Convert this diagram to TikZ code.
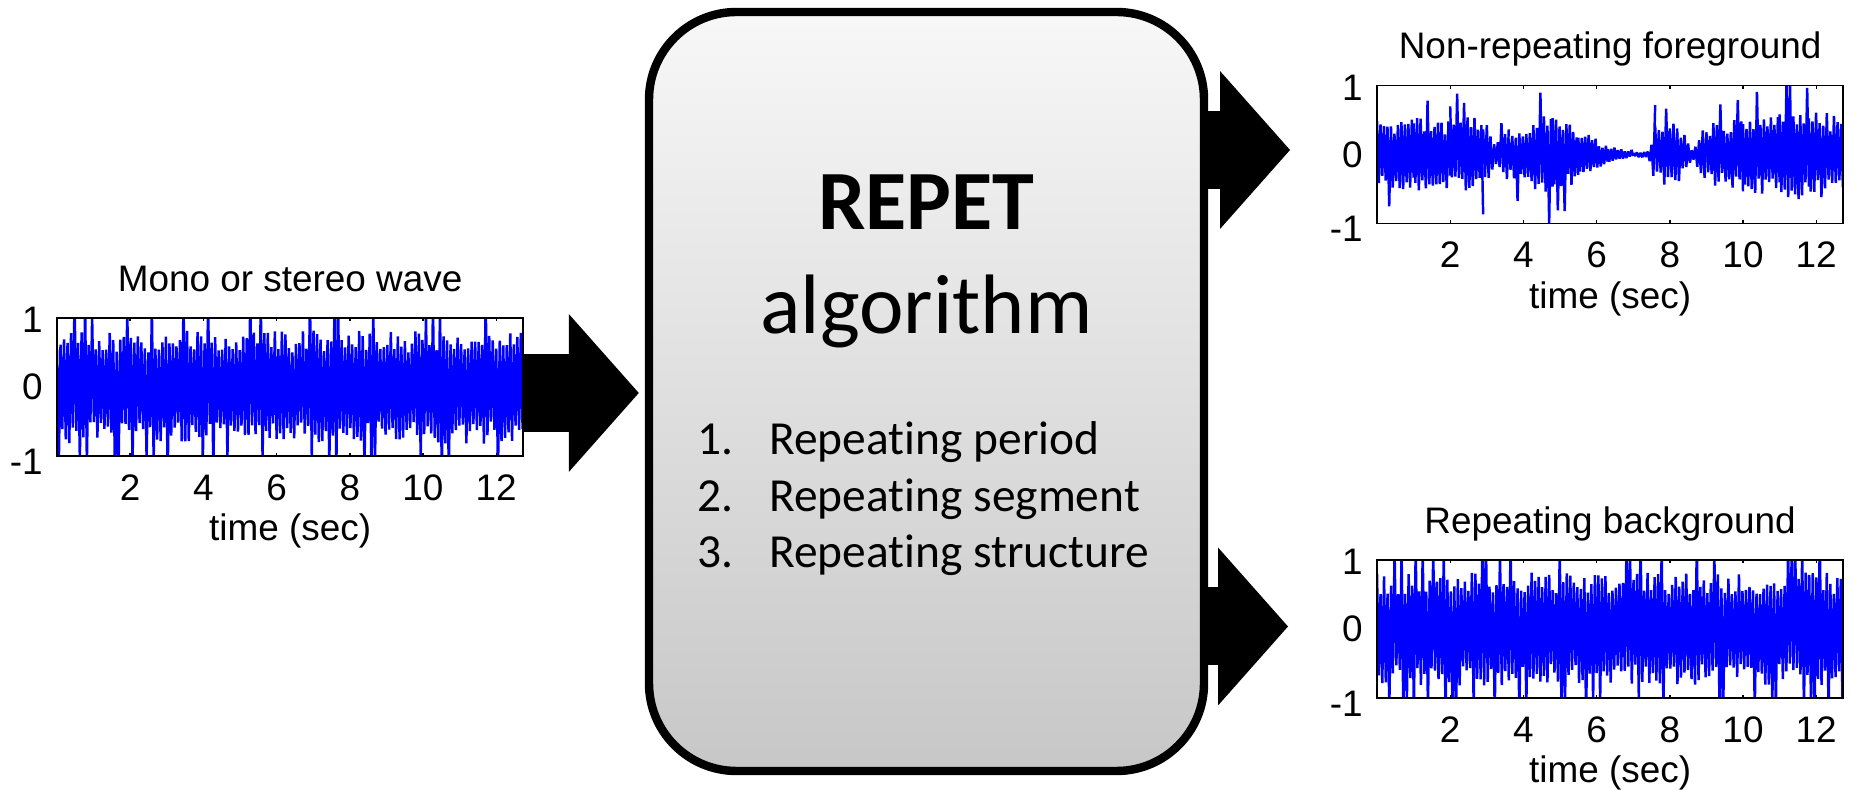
\documentclass[tikz,border=0pt]{standalone}
\usepackage{fontspec}
\setmainfont{Liberation Sans}
\newfontfamily\calibri[Ligatures=NoCommon]{Carlito}
\usepackage{tikz}
\usetikzlibrary{arrows.meta, calc}
\tikzstyle{wave} = [draw=blue, line width=1.4pt, line join=bevel]
\tikzstyle{axlabel} = [font=\fontsize{21}{25}\selectfont, inner sep=0pt]
\tikzstyle{bigarrow} = [line width=1.56cm, -{Triangle[length=1.4cm, width=3.16cm, line width=0pt]}]
\tikzstyle{listtext} = [font=\calibri\fontsize{27}{32}\selectfont, inner sep=0pt]

% axes box, ticks and labels of one waveform plot
\newcommand{\plotframe}[2]{%
  \draw[line width=0.8pt] (0,-1) rectangle (12.73,1);
  \foreach \t in {2,4,...,12} {
    \draw[line width=0.8pt] (\t,1) -- ++(0,-0.05);
    \draw[line width=0.8pt] (\t,-1) -- ++(0,0.05);
    \node[axlabel, anchor=base] (#1-x\t) at (\t,-1.64) {\t};
  }
  \node[axlabel, anchor=east] (#1-y1) at (-0.38,0.97) {1};
  \node[axlabel, anchor=east] (#1-y0) at (-0.38,0) {0};
  \node[axlabel, anchor=east] (#1-ym1) at (-0.38,-1.08) {-1};
  \node[axlabel, anchor=base] (#1-xlabel) at (6.37,-2.23) {time (sec)};
  \node[axlabel, anchor=base] (#1-title) at (6.37,1.39) {#2};
}

\begin{document}
\begin{tikzpicture}
	\useasboundingbox (0,0) rectangle (37.04,15.8);
	\pgfmathsetseed{7}

	% input wave
	\begin{scope}[shift={(1.14,8.06)}, x=0.732cm, y=1.38cm]
		\begin{scope}
			\clip (0,-1) rectangle (12.73,1);
			\draw[wave] plot[variable=\k, domain=0:265, samples=266] ({\k*0.048}, {(1-2*mod(\k,2))*(0.5+0.32*rnd+0.5*(rnd>0.85))});
		\end{scope}
		\plotframe{mono}{Mono or stereo wave}
	\end{scope}

	% non-repeating foreground
	\begin{scope}[shift={(27.54,12.71)}, x=0.732cm, y=1.38cm]
		\begin{scope}
			\clip (0,-1) rectangle (12.73,1);
			\foreach \ta/\ea/\tb/\eb in {0/0.45/1/0.5, 1/0.5/2/0.45, 2/0.45/2.9/0.55, 2.9/0.55/3.2/0.15, 3.2/0.15/3.6/0.35, 3.6/0.35/4.8/0.6, 4.8/0.6/5.5/0.35, 5.5/0.35/6.3/0.12, 6.3/0.12/7/0.03, 7/0.03/7.4/0.05, 7.4/0.05/7.6/0.4, 7.6/0.4/8.2/0.45, 8.2/0.45/8.6/0.08, 8.6/0.08/9/0.4, 9/0.4/10/0.5, 10/0.5/11/0.55, 11/0.55/11.8/0.65, 11.8/0.65/12.73/0.5} {
				\pgfmathtruncatemacro\n{max(2,round((\tb-\ta)/0.048))}
				\pgfmathtruncatemacro\np{\n+1}
				\draw[wave] plot[variable=\k, domain=0:\n, samples=\np] ({\ta+(\tb-\ta)*\k/\n}, {(1-2*mod(\k,2))*(\ea+(\eb-\ea)*\k/\n)*(0.6+0.5*rnd+0.8*(rnd>0.92))});
			}
		\end{scope}
		\plotframe{fg}{Non-repeating foreground}
	\end{scope}

	% repeating background
	\begin{scope}[shift={(27.54,3.22)}, x=0.732cm, y=1.38cm]
		\begin{scope}
			\clip (0,-1) rectangle (12.73,1);
			\draw[wave] plot[variable=\k, domain=0:265, samples=266] ({\k*0.048}, {(1-2*mod(\k,2))*(0.5+0.32*rnd+0.5*(rnd>0.85))});
		\end{scope}
		\plotframe{bg}{Repeating background}
	\end{scope}

	% algorithm box
	\node[draw, line width=4.8pt, rounded corners=1.75cm, top color=black!3, bottom color=black!22, minimum width=11.1cm, minimum height=15.18cm, inner sep=0pt] (repet) at (18.53,7.97) {};
	\node[font=\calibri\bfseries\fontsize{48}{58}\selectfont, anchor=base, inner sep=0pt] (repettitle) at (18.53,11.2) {REPET};
	\node[font=\calibri\fontsize{48}{58}\selectfont, anchor=base, inner sep=0pt] (repetalgo) at (18.53,9.12) {algorithm};
	\foreach \i/\txt in {1/Repeating period, 2/Repeating segment, 3/Repeating structure} {
		\node[listtext, anchor=base west] (num\i) at (13.94, {6.7-(\i-1)*1.13}) {\i.};
		\node[listtext, anchor=base west] (item\i) at (15.38, {6.7-(\i-1)*1.13}) {\txt};
	}

	% block arrows
	\coordinate (monoout) at (10.46,7.94);
	\coordinate (fgin) at (25.8,12.8);
	\coordinate (bgin) at (25.76,3.27);
	\draw[bigarrow, shorten >=0.12cm] (monoout) -- (monoout -| repet.west);
	\draw[bigarrow] (repet.east |- fgin) -- (fgin);
	\draw[bigarrow] (repet.east |- bgin) -- (bgin);
\end{tikzpicture}
\end{document}
